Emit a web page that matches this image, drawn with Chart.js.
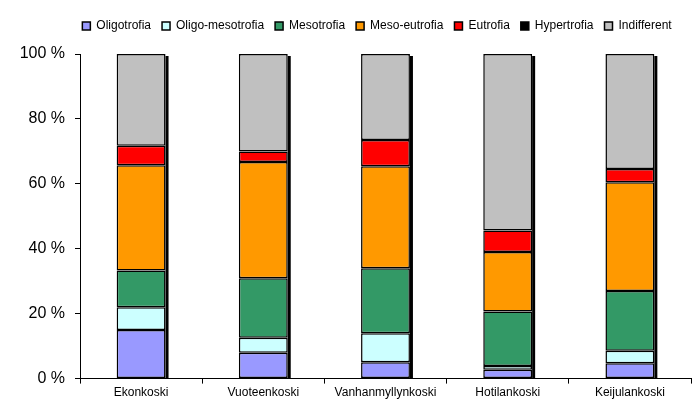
<!DOCTYPE html>
<html>
<head>
<meta charset="utf-8">
<script src="https://cdn.jsdelivr.net/npm/chart.js@4.4.1/dist/chart.umd.min.js"></script>
<style>
  html, body { margin: 0; padding: 0; background: #fff; }
  #wrap { width: 696px; height: 416px; }
</style>
</head>
<body>
<div id="wrap"><canvas id="chart" width="696" height="416"></canvas></div>
<script>
  // data (percent of taxa)
  const sites = ['Ekonkoski', 'Vuoteenkoski', 'Vanhanmyllynkoski', 'Hotilankoski', 'Keijulankoski'];
  const oligotrofia     = [15.0, 8.0, 5.0, 2.7, 4.7];
  const oligoMesotrofia = [7.0, 4.6, 9.0, 1.2, 3.9];
  const mesotrofia      = [11.3, 18.3, 20.0, 16.8, 18.4];
  const mesoEutrofia    = [32.4, 35.8, 31.4, 18.3, 33.5];
  const eutrofia        = [6.0, 3.3, 8.1, 6.6, 4.1];
  const hypertrofia     = [0, 0, 0, 0, 0];
  const indifferent     = [28.3, 30.0, 26.5, 54.4, 35.4];
  const yTicks = [0, 20, 40, 60, 80, 100];

  const series = [
    { label: 'Oligotrofia', data: oligotrofia, color: '#9999ff' },
    { label: 'Oligo-mesotrofia', data: oligoMesotrofia, color: '#ccffff' },
    { label: 'Mesotrofia', data: mesotrofia, color: '#339966' },
    { label: 'Meso-eutrofia', data: mesoEutrofia, color: '#ff9900' },
    { label: 'Eutrofia', data: eutrofia, color: '#ff0000' },
    { label: 'Hypertrofia', data: hypertrofia, color: '#000000' },
    { label: 'Indifferent', data: indifferent, color: '#c0c0c0' },
  ];

  // black drop shadow on the right side of each stacked column
  const barShadow = {
    id: 'barShadow',
    beforeDatasetsDraw(chart) {
      const ctx = chart.ctx;
      const first = chart.getDatasetMeta(0).data;
      const last = chart.getDatasetMeta(series.length - 1).data;
      ctx.save();
      ctx.fillStyle = '#000';
      first.forEach((bar, i) => {
        const top = last[i].y;
        const right = bar.x + bar.width / 2;
        ctx.fillRect(right, top + 2, 3, bar.base - top - 2);
      });
      ctx.restore();
    }
  };

  // extra room under the legend, and legend nudged right like in the original
  const legendTweak = {
    id: 'legendTweak',
    beforeInit(chart) {
      const fit = chart.legend.fit;
      chart.legend.fit = function () {
        fit.bind(chart.legend)();
        this.height += 12;
      };
    },
    afterLayout(chart) {
      const lg = chart.legend;
      const shift = 377 - (lg.left + lg.right) / 2;
      lg.left += shift;
      lg.right += shift;
    }
  };

  Chart.defaults.font.family = '"Liberation Sans", Arial, sans-serif';
  Chart.defaults.color = '#000';

  new Chart(document.getElementById('chart'), {
    type: 'bar',
    data: {
      labels: sites,
      datasets: series.map(s => ({
        label: s.label,
        data: s.data,
        backgroundColor: s.color,
        borderColor: '#000',
        borderWidth: 1.5,
        borderSkipped: false,
        barPercentage: 0.8,
        categoryPercentage: 0.5,
      }))
    },
    options: {
      responsive: false,
      animation: false,
      layout: { padding: { top: 9, left: 0, right: 5, bottom: 14 } },
      plugins: {
        legend: {
          position: 'top',
          labels: { boxWidth: 8, boxHeight: 8, padding: 11, font: { size: 12 }, color: '#000' }
        },
        tooltip: { enabled: false },
      },
      scales: {
        x: {
          stacked: true,
          grid: { offset: true, drawOnChartArea: false, color: '#000', tickLength: 5 },
          border: { color: '#000', width: 1 },
          ticks: { font: { size: 12 }, color: '#000', maxRotation: 0, padding: 2 },
        },
        y: {
          stacked: true,
          min: 0,
          max: 100,
          afterFit(axis) { axis.width = 80; },
          afterBuildTicks(axis) { axis.ticks = yTicks.map(v => ({ value: v })); },
          grid: { drawOnChartArea: false, color: '#000', tickLength: 5 },
          border: { color: '#000', width: 1 },
          ticks: { font: { size: 16 }, color: '#000', padding: 10, callback: v => v + ' %' },
        }
      }
    },
    plugins: [barShadow, legendTweak]
  });
</script>
</body>
</html>
